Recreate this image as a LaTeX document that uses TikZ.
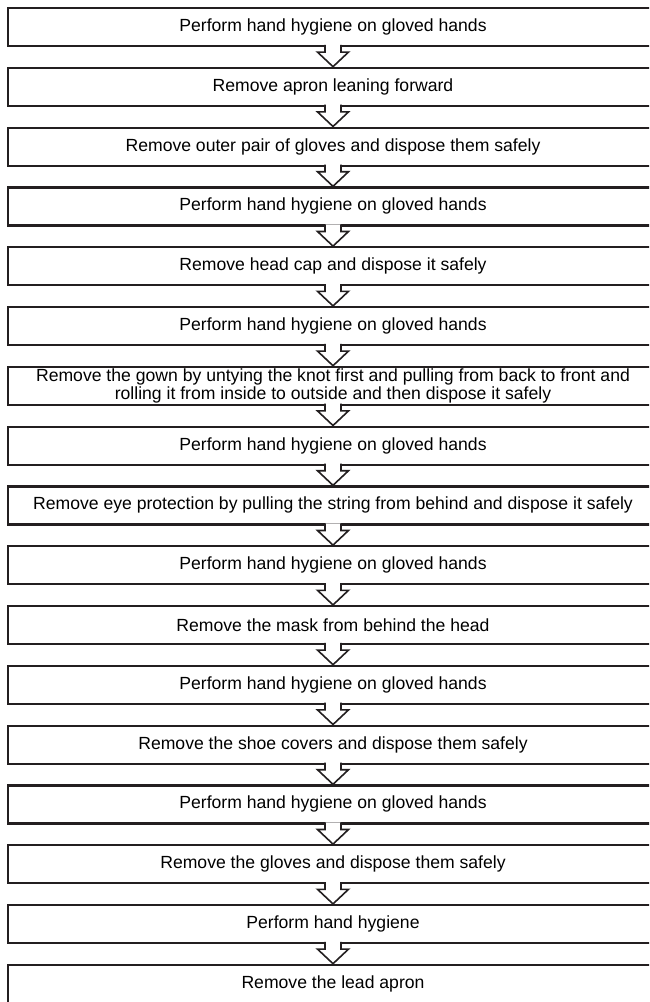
\documentclass[tikz,border=0pt]{standalone}
\usepackage{fontspec}
\setmainfont{Liberation Sans}
\definecolor{boxcol}{RGB}{35,31,32}
\tikzset{
  stepbox/.style={draw=boxcol,line width=2.2pt,minimum width=650pt,minimum height=38pt,
    inner sep=0pt,align=center,font=\fontsize{17.6}{17.5}\selectfont},
  flowarrow/.style={draw=boxcol,line width=1.6pt,fill=white,line join=miter}
}

\begin{document}
\begin{tikzpicture}[x=1pt,y=-1pt]
                \clip(0,0)rectangle(649,1002);
                \foreach \t [count=\i] in {
                    Perform hand hygiene on gloved hands,
                    Remove apron leaning forward,
                    Remove outer pair of gloves and dispose them safely,
                    Perform hand hygiene on gloved hands,
                    Remove head cap and dispose it safely,
                    Perform hand hygiene on gloved hands,
                    {Remove the gown by untying the knot first and pulling from back to front and\\rolling it from inside to outside and then dispose it safely},
                    Perform hand hygiene on gloved hands,
                    Remove eye protection by pulling the string from behind and dispose it safely,
                    Perform hand hygiene on gloved hands,
                    Remove the mask from behind the head,
                    Perform hand hygiene on gloved hands,
                    Remove the shoe covers and dispose them safely,
                    Perform hand hygiene on gloved hands,
                    Remove the gloves and dispose them safely,
                    Perform hand hygiene,
                    Remove the lead apron}
                    \node[stepbox](b\i)at(333,{27+59.8*(\i-1)}){\t};
                \foreach \i [evaluate=\i as \j using int(\i+1)] in {1,...,16}
                    \draw[flowarrow]([xshift=-8pt,yshift=2.2pt]b\i.south)--([xshift=-8pt,yshift=-5pt]b\i.south)
                        --([xshift=-15.5pt,yshift=-5pt]b\i.south)--(b\j.north)
                        --([xshift=15.5pt,yshift=-5pt]b\i.south)--([xshift=8pt,yshift=-5pt]b\i.south)
                        --([xshift=8pt,yshift=2.2pt]b\i.south);
            \end{tikzpicture}
\end{document}
